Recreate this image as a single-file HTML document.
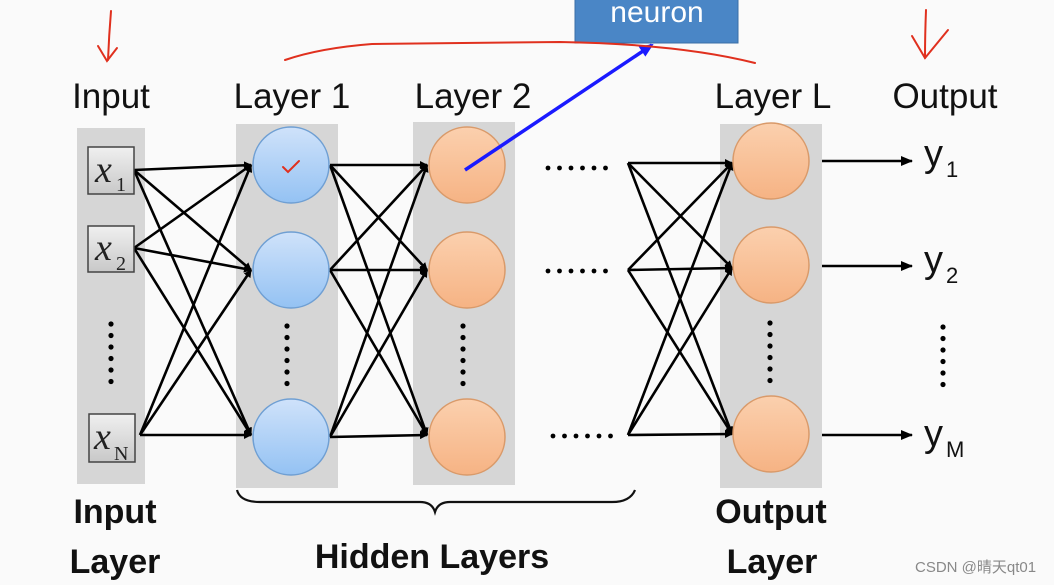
<!DOCTYPE html>
<html><head><meta charset="utf-8"><style>
html,body{margin:0;padding:0;background:#fafafa;}
svg{display:block;}
</style></head><body>
<svg width="1054" height="585" viewBox="0 0 1054 585" xmlns="http://www.w3.org/2000/svg" font-family="Liberation Sans, DejaVu Sans, sans-serif">
<defs>
<marker id="ah" markerWidth="8" markerHeight="8" refX="7" refY="4" orient="auto" markerUnits="userSpaceOnUse"><path d="M0,0 L8,4 L0,8 z" fill="#000"/></marker>
<marker id="ah2" markerWidth="12" markerHeight="10" refX="11" refY="5" orient="auto" markerUnits="userSpaceOnUse"><path d="M0,0 L12,5 L0,10 z" fill="#000"/></marker>
<marker id="bh" markerWidth="14" markerHeight="12" refX="12" refY="6" orient="auto" markerUnits="userSpaceOnUse"><path d="M0,0 L14,6 L0,12 z" fill="#1a1aff"/></marker>
<linearGradient id="gb" x1="0" y1="0" x2="0" y2="1"><stop offset="0" stop-color="#cfe2fa"/><stop offset="1" stop-color="#94c2f3"/></linearGradient>
<linearGradient id="go" x1="0" y1="0" x2="0" y2="1"><stop offset="0" stop-color="#fbd0ae"/><stop offset="1" stop-color="#f6b384"/></linearGradient>
<linearGradient id="gx" x1="0" y1="0" x2="0" y2="1"><stop offset="0" stop-color="#f0f0f0"/><stop offset="1" stop-color="#c8c8c8"/></linearGradient>
<g id="vd"><circle cx="0" cy="0" r="2.6"/><circle cx="0" cy="11.5" r="2.6"/><circle cx="0" cy="23" r="2.6"/><circle cx="0" cy="34.5" r="2.6"/><circle cx="0" cy="46" r="2.6"/><circle cx="0" cy="57.5" r="2.6"/></g>
<g id="hd"><circle cx="0" cy="0" r="2.4"/><circle cx="11.5" cy="0" r="2.4"/><circle cx="23" cy="0" r="2.4"/><circle cx="34.5" cy="0" r="2.4"/><circle cx="46" cy="0" r="2.4"/><circle cx="57.5" cy="0" r="2.4"/></g>
</defs>
<rect width="1054" height="585" fill="#fafafa"/>
<rect x="77" y="128" width="68" height="356" fill="#d6d6d6"/>
<rect x="236" y="124" width="102" height="364" fill="#d6d6d6"/>
<rect x="413" y="122" width="102" height="363" fill="#d6d6d6"/>
<rect x="720" y="124" width="102" height="364" fill="#d6d6d6"/>
<g font-size="35" fill="#111" text-anchor="middle">
<text x="111" y="108">Input</text>
<text x="292" y="108">Layer 1</text>
<text x="473" y="108">Layer 2</text>
<text x="773" y="108">Layer L</text>
<text x="945" y="108">Output</text>
</g>
<g stroke="#000" stroke-width="2.6" marker-end="url(#ah)" fill="none">
<line x1="134" y1="170" x2="251" y2="165"/><line x1="134" y1="170" x2="251" y2="270"/><line x1="134" y1="170" x2="251" y2="435"/>
<line x1="134" y1="248" x2="251" y2="165"/><line x1="134" y1="248" x2="251" y2="270"/><line x1="134" y1="248" x2="251" y2="435"/>
<line x1="140" y1="435" x2="251" y2="165"/><line x1="140" y1="435" x2="251" y2="270"/><line x1="140" y1="435" x2="251" y2="435"/>
<line x1="330" y1="165" x2="427" y2="165"/><line x1="330" y1="165" x2="427" y2="270"/><line x1="330" y1="165" x2="427" y2="435"/>
<line x1="330" y1="270" x2="427" y2="165"/><line x1="330" y1="270" x2="427" y2="270"/><line x1="330" y1="270" x2="427" y2="435"/>
<line x1="330" y1="437" x2="427" y2="165"/><line x1="330" y1="437" x2="427" y2="270"/><line x1="330" y1="437" x2="427" y2="435"/>
<line x1="628" y1="163" x2="732" y2="163"/><line x1="628" y1="163" x2="732" y2="268"/><line x1="628" y1="163" x2="732" y2="434"/>
<line x1="628" y1="270" x2="732" y2="163"/><line x1="628" y1="270" x2="732" y2="268"/><line x1="628" y1="270" x2="732" y2="434"/>
<line x1="628" y1="435" x2="732" y2="163"/><line x1="628" y1="435" x2="732" y2="268"/><line x1="628" y1="435" x2="732" y2="434"/>
</g>
<g stroke="#000" stroke-width="2.4" marker-end="url(#ah2)">
<line x1="822" y1="161" x2="912" y2="161"/><line x1="822" y1="266" x2="912" y2="266"/><line x1="822" y1="435" x2="912" y2="435"/>
</g>
<g stroke="#444" stroke-width="1.5" fill="url(#gx)">
<rect x="88" y="147" width="46" height="47"/><rect x="88" y="226" width="46" height="46"/><rect x="89" y="414" width="46" height="48"/>
</g>
<g style="font-family:'Liberation Serif','DejaVu Serif',serif" fill="#222">
<text x="95" y="182" font-size="38" font-style="italic">x</text><text x="116" y="191" font-size="20">1</text>
<text x="95" y="260" font-size="38" font-style="italic">x</text><text x="116" y="270" font-size="20">2</text>
<text x="94" y="449" font-size="38" font-style="italic">x</text><text x="114" y="460" font-size="20">N</text>
</g>
<g stroke="#6f9fd3" stroke-width="1.5" fill="url(#gb)">
<circle cx="291" cy="165" r="38"/><circle cx="291" cy="270" r="38"/><circle cx="291" cy="437" r="38"/>
</g>
<g stroke="#d99a6a" stroke-width="1.5" fill="url(#go)">
<circle cx="467" cy="165" r="38"/><circle cx="467" cy="270" r="38"/><circle cx="467" cy="437" r="38"/>
<circle cx="771" cy="161" r="38"/><circle cx="771" cy="265" r="38"/><circle cx="771" cy="434" r="38"/>
</g>
<g fill="#000">
<use href="#vd" x="111" y="324"/><use href="#vd" x="287" y="326"/><use href="#vd" x="463" y="326"/><use href="#vd" x="770" y="323"/><use href="#vd" x="943" y="327"/>
<use href="#hd" x="548" y="168"/><use href="#hd" x="548" y="271"/><use href="#hd" x="553" y="436"/>
</g>
<g font-size="38" fill="#111">
<text x="924" y="166">y</text><text x="946" y="177" font-size="22">1</text>
<text x="924" y="272">y</text><text x="946" y="283" font-size="22">2</text>
<text x="924" y="446">y</text><text x="946" y="457" font-size="22">M</text>
</g>
<path d="M237,490 Q240,502 260,502 L420,502 Q432,502 435,512 Q438,502 450,502 L612,502 Q630,502 635,490" fill="none" stroke="#111" stroke-width="2.2"/>
<g font-size="34" font-weight="bold" fill="#111" text-anchor="middle">
<text x="115" y="523">Input</text><text x="115" y="573">Layer</text>
<text x="432" y="568">Hidden Layers</text>
<text x="771" y="523">Output</text><text x="772" y="573">Layer</text>
</g>
<rect x="575" y="-2" width="163" height="45" fill="#4a86c6" stroke="#3a6ea5" stroke-width="1"/>
<text x="657" y="22" font-size="30" fill="#fff" text-anchor="middle">neuron</text>
<line x1="465" y1="170" x2="652" y2="45" stroke="#1a1aff" stroke-width="3.5" marker-end="url(#bh)"/>
<g stroke="#e0301e" stroke-width="2" fill="none" stroke-linecap="round">
<path d="M111,11 Q109,35 108,60"/><path d="M98,46 L107,61 L117,48"/>
<path d="M926,10 Q925,35 925,58"/><path d="M912,36 L925,58 L948,30"/>
<path d="M285,60 Q320,48 372,44 L560,42 Q680,44 755,63"/>
<path d="M283,167 L288,172 L299,161"/>
</g>
<text x="915" y="572" font-size="15" fill="#888" style="font-family:'Liberation Sans','Noto Sans CJK SC',sans-serif">CSDN @晴天qt01</text>
</svg>
</body></html>
